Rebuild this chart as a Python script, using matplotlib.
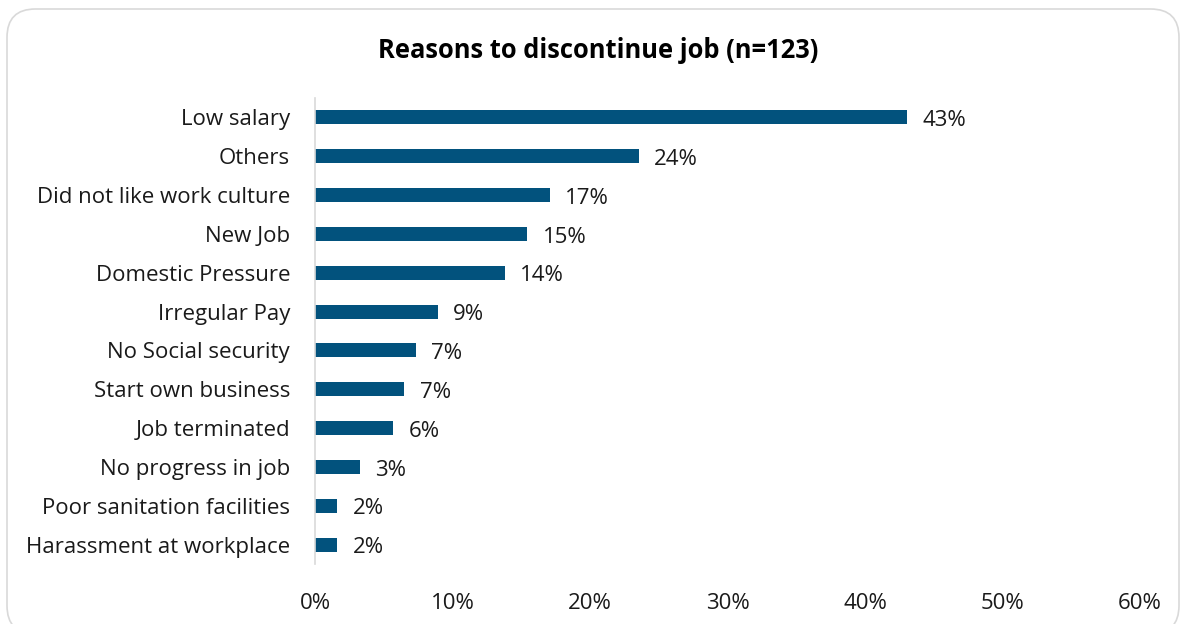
import matplotlib
matplotlib.use("Agg")
import matplotlib.pyplot as plt
from matplotlib.patches import FancyBboxPatch

plt.rcParams['font.family'] = ['Open Sans', 'DejaVu Sans']

title = "Reasons to discontinue job (n=123)"
total = 123
reasons = [
    "Low salary", "Others", "Did not like work culture", "New Job",
    "Domestic Pressure", "Irregular Pay", "No Social security",
    "Start own business", "Job terminated", "No progress in job",
    "Poor sanitation facilities", "Harassment at workplace",
]
counts = [53, 29, 21, 19, 17, 11, 9, 8, 7, 4, 2, 2]
x_ticks = [0, 10, 20, 30, 40, 50, 60]

shares = [100.0 * c / total for c in counts]
bar_color = "#02527D"
text_color = "#1A1A1A"
fs = 16

fig = plt.figure(figsize=(11.84, 6.24), dpi=100)

# rounded card border around the chart
card = FancyBboxPatch((7 / 1184, -0.016), 1172 / 1184, 1.0 - 9 / 624 + 0.016,
                      boxstyle="round,pad=0,rounding_size=0.024",
                      transform=fig.transFigure, facecolor="none",
                      edgecolor="#D9D9D9", linewidth=1.2,
                      mutation_aspect=1184 / 624, zorder=-1)
fig.patches.append(card)

ax = fig.add_axes([315 / 1184, 1 - 564 / 624, 825 / 1184, 466 / 624])
ax.set_facecolor("none")

ypos = list(range(len(reasons)))
ax.barh(ypos, shares, height=0.36, color=bar_color)
for y, v in zip(ypos, shares):
    ax.text(v + 1.1, y + 0.08, f"{v:.0f}%", va="center", ha="left",
            fontsize=fs, color=text_color)

ax.set_ylim(len(reasons) - 0.5, -0.5)
ax.set_xlim(0, 60)
ax.set_yticks(ypos)
ax.set_yticklabels(reasons, fontsize=fs, color=text_color)
ax.set_xticks(x_ticks)
ax.set_xticklabels([f"{t}%" for t in x_ticks], fontsize=fs, color=text_color)
ax.tick_params(axis="both", length=0)
ax.tick_params(axis="x", pad=21)
ax.tick_params(axis="y", pad=18)

for side in ("top", "right", "bottom"):
    ax.spines[side].set_visible(False)
ax.spines["left"].set_color("#D9D9D9")
ax.spines["left"].set_linewidth(1.2)

fig.text(598 / 1184, 1 - 50 / 624, title, ha="center", va="center",
         fontsize=18.4, fontweight="bold", color="#000000")

fig.savefig("out.png", dpi=100)
